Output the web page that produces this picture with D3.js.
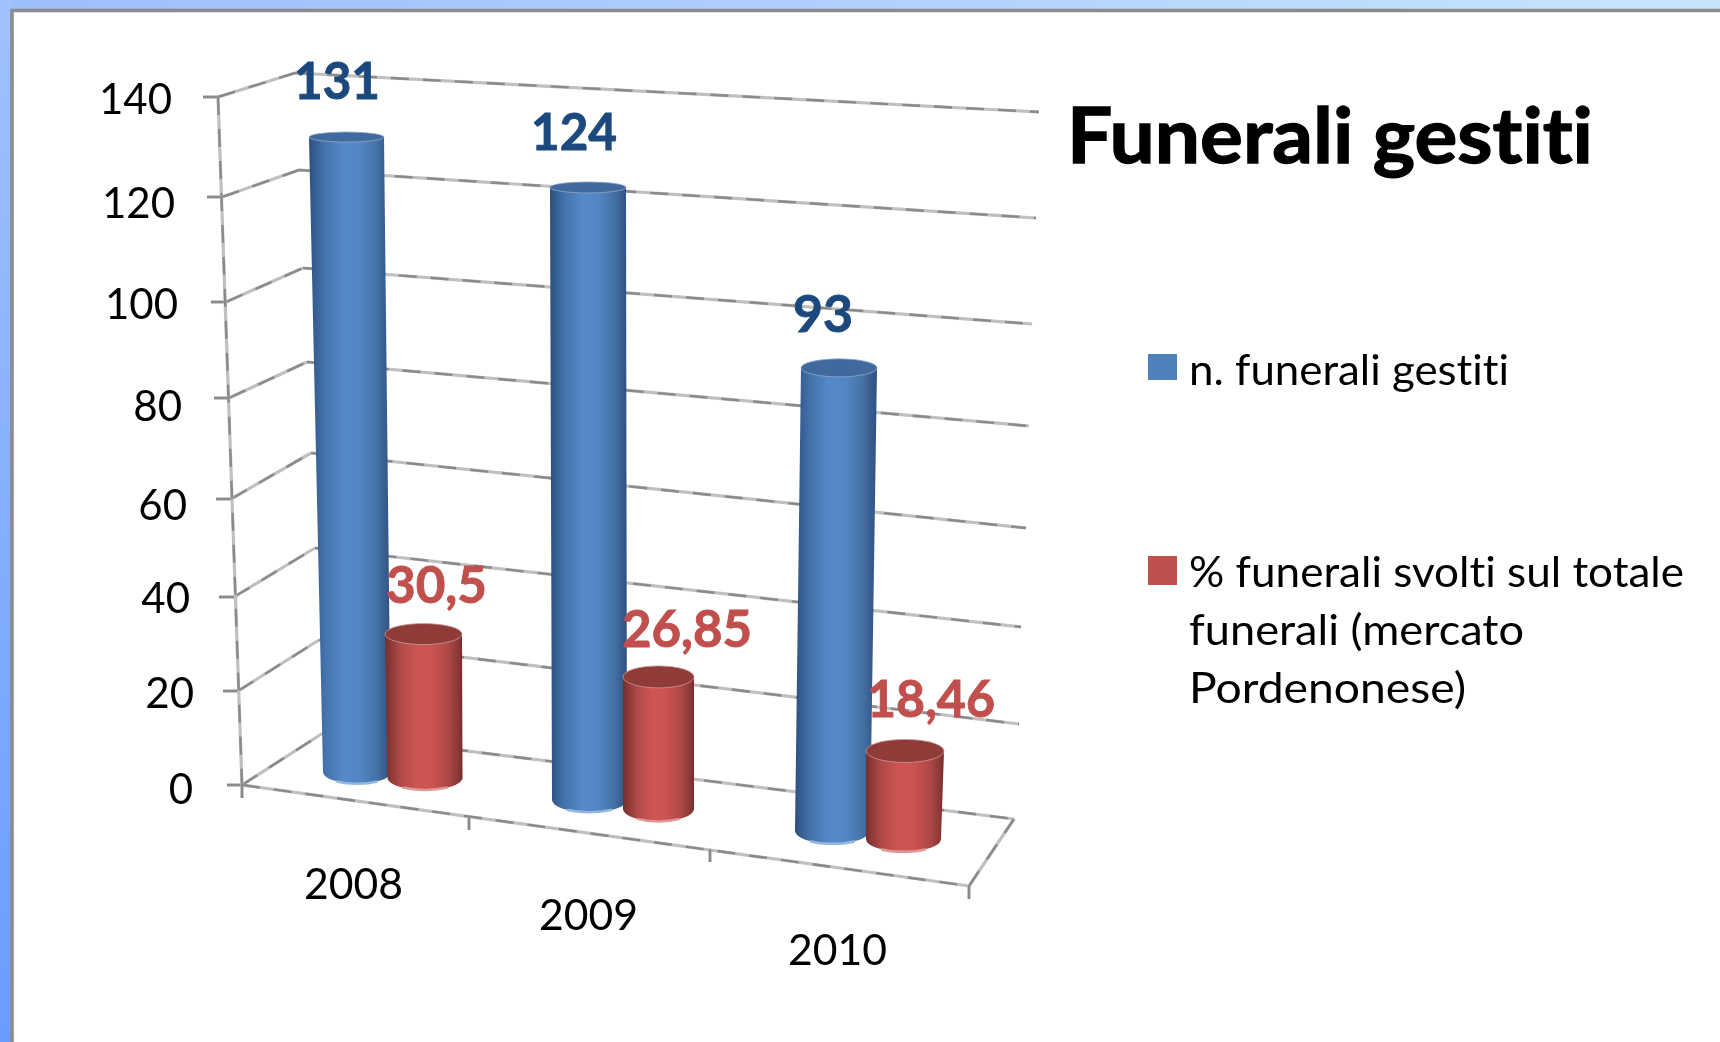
<!DOCTYPE html>
<html><head><meta charset="utf-8">
<script src="https://cdn.jsdelivr.net/npm/d3@7"></script>
<style>html,body{margin:0;padding:0;background:#fff}svg{display:block}text{font-family:Lato,'Open Sans',sans-serif;font-variant-ligatures:none;font-feature-settings:"liga" 0,"clig" 0}</style>
</head><body><svg id="c" width="1720" height="1042"></svg>
<script>
const categories = ["2008","2009","2010"];
const funeraliGestiti = [131,124,93];
const percentualeSvolti = [30.5,26.85,18.46];
const percentualeLabels = ["30,5","26,85","18,46"];
const yTicks = [0,20,40,60,80,100,120,140];
const title = "Funerali gestiti";
const legendLines = [["n. funerali gestiti"],["% funerali svolti sul totale","funerali (mercato","Pordenonese)"]];

const svg = d3.select("#c");
const defs = svg.append("defs");
defs.append("filter").attr("id","soft").attr("x","-5%").attr("y","-5%").attr("width","110%").attr("height","110%")
  .append("feGaussianBlur").attr("stdDeviation",0.55);

// --- 3D wall projection scales: value -> pixel along each wall edge
const leftX  = d3.scaleLinear().domain(yTicks).range([242,238,234,231,229,226,222,218]);
const leftY  = d3.scaleLinear().domain(yTicks).range([785,691,597,499,398,302,197,97]);
const backX  = d3.scaleLinear().domain([0,140]).range([323,295]);
const backY  = d3.scaleLinear().domain(yTicks).range([733,640,548,453,362,268,170,73]);
const rightX = d3.scaleLinear().domain(yTicks).range([1014,1019,1021,1026,1029,1032,1036,1039]);
const rightY = d3.scaleLinear().domain(yTicks).range([819,724,627,528,426,324,218,112]);
const floorX = d3.scaleLinear().domain([0,1,2,3]).range([242,469,710,969]);
const floorY = d3.scaleLinear().domain([0,1,2,3]).range([785,817,849,886]);
const floorSteps = [0,1,2,3];

// --- background
const bgH=defs.append("linearGradient").attr("id","bgTop");
[[0,"#9cbffd"],[0.5,"#b0d0fe"],[1,"#c6e6ff"]].forEach(s=>bgH.append("stop").attr("offset",s[0]).attr("stop-color",s[1]));
const bgV=defs.append("linearGradient").attr("id","bgLeft").attr("x1",0).attr("x2",0).attr("y1",0).attr("y2",1);
[[0,"#a0c2fd"],[1,"#6a9cff"]].forEach(s=>bgV.append("stop").attr("offset",s[0]).attr("stop-color",s[1]));
svg.append("rect").attr("width",1720).attr("height",12).attr("fill","url(#bgTop)");
svg.append("rect").attr("width",12).attr("height",1042).attr("fill","url(#bgLeft)");
svg.append("path").attr("d","M12,1042V10.5H1720").attr("fill","none").attr("stroke","#8c8c8c").attr("stroke-width",3.6);

// --- jagged gridline helper
const chart=svg.append("g").attr("filter","url(#soft)");
function grid(x1,y1,x2,y2){
  const g=chart.append("g");
  g.append("line").attr("x1",x1).attr("y1",y1).attr("x2",x2).attr("y2",y2).attr("stroke","#c0c0c0").attr("stroke-width",3.2);
  g.append("line").attr("x1",x1).attr("y1",y1).attr("x2",x2).attr("y2",y2).attr("stroke","#8a8a8a").attr("stroke-width",2.4).attr("stroke-dasharray","18 14");
}
yTicks.forEach(v=>{
  grid(leftX(v),leftY(v),backX(v),backY(v));
  grid(backX(v),backY(v),rightX(v),rightY(v));
  grid(leftX(v)-15,leftY(v),leftX(v),leftY(v));
});
grid(leftX(140),leftY(140),leftX(0),leftY(0));
grid(floorX(0),floorY(0),floorX(3),floorY(3));
grid(floorX(3),floorY(3),rightX(0),rightY(0));
floorSteps.forEach(t=>grid(floorX(t),floorY(t),floorX(t),floorY(t)+13));

// --- bars
const byCat=r=>d3.scaleOrdinal().domain(categories).range(r);
const barSeries=[
 {x:byCat([357,589.5,832.5]),y:byCat([772,800,831]),topX:byCat([346.5,588,839]),
  hwB:byCat([34,37.5,37.5]),hwT:byCat([37.5,38,38]),k:byCat([4.847,4.94,4.98]),
  vals:funeraliGestiti,grad:"gb",top:"#3f6a9e",rim:"#8ea8c8",bottom:"#93b6e0"},
 {x:byCat([425,658.5,903.5]),y:byCat([778,809,839]),topX:byCat([423.5,658.5,905]),
  hwB:byCat([37.5,35.5,37.5]),hwT:byCat([38.5,35.5,39]),k:byCat([4.72,4.92,4.77]),
  vals:percentualeSvolti,grad:"gr",top:"#8f3a38",rim:"#c99a98",bottom:"#e09695"}
];
function gradient(id,stops){
  const g=defs.append("linearGradient").attr("id",id);
  stops.forEach(s=>g.append("stop").attr("offset",s[0]).attr("stop-color",s[1]));
}
gradient("gb",[[0,"#2c4e7c"],[.07,"#365f93"],[.2,"#4573ac"],[.42,"#5589c9"],[.62,"#5386c5"],[.84,"#436fa3"],[.95,"#35598a"],[1,"#2d5080"]]);
gradient("gr",[[0,"#752d2c"],[.07,"#8b3837"],[.2,"#b04a48"],[.42,"#ce5553"],[.62,"#ca5351"],[.84,"#a84645"],[.95,"#8a3735"],[1,"#732b2a"]]);
const capRy=d3.scaleLinear().domain([137,187,368,634,677,750,850]).range([5,5.5,9,10.5,11,11.5,13]);
categories.forEach((c,i)=>{
  barSeries.forEach(s=>{
    const v=s.vals[i], bx=s.x(c), by=s.y(c), tx=s.topX(c), ty=by-s.k(c)*v, hb=s.hwB(c), ht=s.hwT(c);
    const rb=capRy(by), rt=capRy(ty);
    const g=chart.append("g");
    g.append("path").attr("d",`M${bx-hb},${by} A${hb},${rb} 0 0 0 ${bx+hb},${by} L${tx+ht},${ty} L${tx-ht},${ty} Z`).attr("fill",`url(#${s.grad})`);
    g.append("path").attr("d",`M${bx-hb*.6},${by+rb*.8} A${hb},${rb} 0 0 0 ${bx+hb*.6},${by+rb*.8}`).attr("fill","none").attr("stroke",s.bottom).attr("stroke-width",2.5);
    g.append("ellipse").attr("cx",tx).attr("cy",ty).attr("rx",ht).attr("ry",rt).attr("fill",s.top).attr("stroke",s.rim).attr("stroke-width",0.8);
  });
});

// --- axis labels
const texts=svg.append("g").attr("filter","url(#soft)");
const yLabelRight=d3.scaleLinear().domain(yTicks).range([193,194,190,187,182,178,175,172]);
const yLabelBase=d3.scaleLinear().domain(yTicks).range([804,708,613,520,421,319,218,114]);
yTicks.forEach(v=>texts.append("text").attr("x",yLabelRight(v)).attr("y",yLabelBase(v)).attr("text-anchor","end").attr("font-size",42).attr("fill","#000").text(v));
const catX=byCat([304,539,788]);
const catY=byCat([899,930,965]);
categories.forEach(c=>texts.append("text").attr("x",catX(c)).attr("y",catY(c)).attr("font-size",42).attr("textLength",99).attr("lengthAdjust","spacingAndGlyphs").text(c));

// --- data labels
function lbl(t,x1,x2,y,fill){texts.append("text").attr("x",x1-3).attr("y",y).attr("font-size",51).attr("font-weight",700).attr("fill",fill).attr("stroke",fill).attr("stroke-width",0.9).attr("textLength",x2-x1+5).attr("lengthAdjust","spacingAndGlyphs").text(t);}
const blueLabelBox=[[297,378,99],[534,615,150],[796,851,332]];
const redLabelBox=[[389,485,603],[625,750,647],[870,993,717]];
funeraliGestiti.forEach((v,i)=>lbl(String(v),...blueLabelBox[i],"#1f497d"));
percentualeLabels.forEach((v,i)=>lbl(v,...redLabelBox[i],"#c0504d"));

// --- title and legend
texts.append("text").attr("x",1067).attr("y",163).attr("font-size",76).attr("font-weight",700).attr("fill","#000").attr("stroke","#000").attr("stroke-width",1.3).attr("textLength",526).attr("lengthAdjust","spacingAndGlyphs").text(title);
const legendColors=["#4f81bd","#c0504d"];
const legendBox=[[354,26],[556,29]];
legendBox.forEach((b,i)=>svg.append("rect").attr("x",1148).attr("y",b[0]).attr("width",29).attr("height",b[1]).attr("fill",legendColors[i]));
const legendBase=[[385],[587,645,703]];
const legendEnd=[[1509],[1684,1524,1466]];
legendLines.forEach((ls,i)=>ls.forEach((l,j)=>texts.append("text").attr("x",1189).attr("y",legendBase[i][j]).attr("font-size",42).attr("fill","#000").attr("textLength",legendEnd[i][j]-1189).attr("lengthAdjust","spacingAndGlyphs").text(l)));
</script></body></html>
